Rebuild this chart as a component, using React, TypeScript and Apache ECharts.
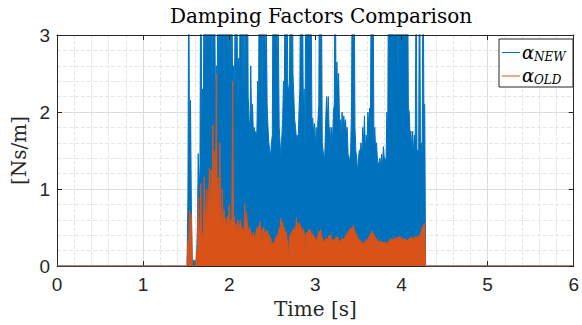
import React, { useEffect, useRef } from "react";
import * as echarts from "echarts";

// ---- data ----
const xTicks = [0, 1, 2, 3, 4, 5, 6];
const yTicks = [0, 1, 2, 3];
const timeRange = [0, 6];
const onsetTime = 1.51;
const offsetTime = 4.28;

// alpha_NEW sampled every 0.01 s starting at 1.52 s
const newStart = 1.52;
const newStep = 0.01;
const alphaNew = [
  0.9, 4.0, 1.2, 2.15, 0.8, 0.1, 0.05, 0.08, 0.04, 0.06,
  0.1, 0.5, 1.46, 0.9, 1.3, 4.5, 1.85, 2.3, 1.9, 5.0,
  2.4, 4.2, 2.6, 5.0, 2.2, 4.0, 2.5, 3.8, 2.3, 4.6,
  2.6, 3.6, 2.1, 2.6, 2.05, 4.4, 2.5, 3.9, 2.4, 5.0,
  2.7, 4.3, 2.3, 3.7, 2.6, 4.8, 2.4, 3.5, 2.2, 4.1,
  2.5, 3.9, 2.2, 2.6, 1.9, 4.0, 2.3, 3.3, 2.0, 2.7,
  2.4, 4.5, 2.6, 3.7, 2.2, 4.2, 1.65, 3.6, 2.6, 4.4,
  2.2, 1.9, 1.75, 2.6, 1.8, 2.1, 1.72, 1.8, 1.7, 1.75,
  1.68, 2.4, 1.9, 4.5, 2.6, 4.0, 1.8, 4.6, 2.7, 4.1,
  2.5, 3.3, 2.1, 1.8, 1.6, 1.5, 1.42, 1.6, 1.7, 4.4,
  2.8, 4.8, 2.6, 4.2, 2.5, 3.1, 1.8, 1.6, 1.42, 1.65,
  1.9, 2.4, 2.2, 4.6, 2.5, 4.0, 2.3, 2.3, 2.4, 4.3,
  2.6, 4.7, 2.5, 2.2, 1.9, 1.8, 1.65, 1.7, 1.63, 2.0,
  2.3, 4.2, 2.4, 3.8, 2.0, 2.3, 1.5, 4.4, 2.6, 4.9,
  2.7, 4.1, 2.5, 3.7, 1.9, 1.92, 1.7, 1.85, 1.55, 1.8,
  1.6, 1.9, 2.1, 4.6, 2.3, 3.9, 1.6, 1.5, 1.4, 1.45,
  1.9, 2.2, 1.9, 2.2, 1.75, 1.8, 1.55, 1.8, 1.6, 2.0,
  2.1, 4.3, 2.2, 2.65, 2.2, 2.5, 1.9, 1.9, 1.63, 2.0,
  1.7, 1.95, 1.8, 1.9, 1.7, 1.8, 1.45, 1.4, 1.38, 1.5,
  2.0, 4.5, 2.3, 4.0, 1.8, 1.5, 1.4, 1.2, 1.4, 1.5,
  1.5, 1.6, 1.4, 1.8, 1.6, 1.95, 1.5, 1.7, 1.6, 2.0,
  1.8, 2.05, 1.9, 4.2, 2.4, 4.0, 1.6, 1.8, 1.5, 1.6,
  1.4, 1.3, 1.35, 1.4, 1.3, 1.45, 1.3, 1.55, 1.4, 1.4,
  1.3, 2.0, 1.6, 4.2, 2.6, 4.8, 2.9, 5.0, 2.8, 4.6,
  3.1, 5.0, 2.9, 4.5, 2.3, 4.7, 3.0, 4.9, 2.8, 5.0,
  3.0, 4.6, 2.9, 4.8, 2.7, 4.2, 2.05, 2.0, 1.7, 1.75,
  1.5, 1.75, 1.45, 1.7, 1.6, 4.0, 1.5, 1.5, 1.45, 4.5,
  1.5, 1.6, 1.45, 4.3, 2.1, 2.1,
];

// alpha_OLD sampled every 0.01 s starting at 1.52 s
const oldStart = 1.52;
const oldStep = 0.01;
const alphaOld = [
  0.32, 0.3, 0.73, 0.5, 0.68, 0.0, 0.0, 0.0, 0.0, 0.0,
  0.2, 0.15, 0.9, 0.4, 0.5, 1.07, 0.45, 0.3, 0.5, 1.16,
  0.55, 0.7, 1.0, 0.5, 0.85, 1.27, 0.6, 1.25, 0.55, 1.83,
  0.7, 1.5, 0.6, 2.5, 0.65, 1.15, 0.6, 1.6, 0.7, 0.5,
  1.0, 0.45, 0.73, 0.4, 0.62, 0.45, 0.64, 0.5, 0.8, 0.45,
  0.6, 0.5, 2.4, 0.5, 0.64, 0.4, 0.55, 0.45, 0.6, 0.4,
  0.52, 0.6, 0.45, 0.5, 0.47, 0.4, 0.8, 0.5, 0.7, 0.55,
  0.47, 0.4, 0.5, 0.38, 0.42, 0.36, 0.44, 0.35, 0.4, 0.42,
  0.5, 0.4, 0.52, 0.45, 0.58, 0.1, 0.48, 0.4, 0.5, 0.38,
  0.45, 0.37, 0.47, 0.35, 0.42, 0.33, 0.38, 0.28, 0.3, 0.26,
  0.32, 0.3, 0.38, 0.33, 0.42, 0.4, 0.5, 0.45, 0.62, 0.5,
  0.57, 0.45, 0.5, 0.4, 0.45, 0.35, 0.3, 0.05, 0.4, 0.36,
  0.44, 0.4, 0.48, 0.42, 0.5, 0.45, 0.63, 0.5, 0.55, 0.48,
  0.56, 0.45, 0.5, 0.44, 0.48, 0.4, 0.42, 0.1, 0.44, 0.4,
  0.47, 0.42, 0.48, 0.4, 0.43, 0.38, 0.4, 0.35, 0.36, 0.33,
  0.35, 0.4, 0.45, 0.42, 0.48, 0.4, 0.38, 0.32, 0.33, 0.3,
  0.36, 0.32, 0.35, 0.37, 0.4, 0.35, 0.41, 0.33, 0.34, 0.31,
  0.35, 0.33, 0.38, 0.34, 0.39, 0.32, 0.33, 0.3, 0.35, 0.32,
  0.36, 0.34, 0.38, 0.36, 0.42, 0.38, 0.45, 0.42, 0.49, 0.44,
  0.5, 0.46, 0.53, 0.47, 0.45, 0.4, 0.42, 0.36, 0.36, 0.33,
  0.34, 0.3, 0.31, 0.28, 0.3, 0.29, 0.33, 0.3, 0.35, 0.33,
  0.38, 0.36, 0.43, 0.4, 0.46, 0.41, 0.42, 0.37, 0.37, 0.33,
  0.35, 0.31, 0.32, 0.3, 0.33, 0.29, 0.31, 0.3, 0.32, 0.29,
  0.3, 0.28, 0.31, 0.3, 0.34, 0.31, 0.36, 0.33, 0.35, 0.32,
  0.37, 0.33, 0.36, 0.34, 0.38, 0.35, 0.39, 0.35, 0.37, 0.34,
  0.35, 0.32, 0.36, 0.33, 0.34, 0.31, 0.35, 0.33, 0.37, 0.34,
  0.38, 0.35, 0.36, 0.34, 0.39, 0.35, 0.38, 0.36, 0.4, 0.37,
  0.41, 0.45, 0.5, 0.52, 0.55, 0.55,
];

const seriesNames = ["α_NEW", "α_OLD"];
const blue = "#0072BD";
const orange = "#D95319";
const axisColor = "#262626";

function buildPoints(values: number[], start: number, step: number) {
  const pts: number[][] = [
    [timeRange[0], 0],
    [onsetTime, 0],
  ];
  values.forEach((v, i) => pts.push([+(start + i * step).toFixed(3), v]));
  pts.push([offsetTime, 0], [timeRange[1], 0]);
  return pts;
}

export default function App() {
  const ref = useRef<HTMLDivElement>(null);
  useEffect(() => {
    document.body.style.margin = "0";
    if (!ref.current) return;
    const chart = echarts.init(ref.current, undefined, { renderer: "svg" });
    const serif = "DejaVu Serif";
    const sans = "Liberation Sans";
    const boxAxis = (pos: string) => ({
      type: "value",
      min: pos === "top" ? timeRange[0] : yTicks[0],
      max: pos === "top" ? timeRange[1] : yTicks[yTicks.length - 1],
      interval: 1,
      position: pos,
      z: 5,
      axisLine: { show: true, onZero: false, lineStyle: { color: axisColor, width: 1 } },
      axisTick: { show: true, inside: true, length: 5, lineStyle: { color: axisColor } },
      axisLabel: { show: false },
      splitLine: { show: false },
    });
    const legendText = (text: string, x: number, y: number, size: number) => ({
      type: "text",
      x,
      y,
      z: 101,
      style: {
        text,
        font: `italic ${size}px "DejaVu Serif"`,
        fill: "#000",
        textAlign: "left",
        textVerticalAlign: "middle",
        align: "left",
        verticalAlign: "middle",
      },
    });
    chart.setOption({
      animation: false,
      title: {
        text: "Damping Factors Comparison",
        left: 316,
        top: 1,
        textAlign: "center",
        textStyle: { fontFamily: serif, fontSize: 20, fontWeight: "normal", color: "#000" },
      },
      grid: { left: 57, right: 7, top: 35, bottom: 59, containLabel: false },
      xAxis: [
        {
          type: "value",
          min: xTicks[0],
          max: xTicks[xTicks.length - 1],
          interval: 1,
          position: "bottom",
          name: "Time [s]",
          nameLocation: "middle",
          nameGap: 30,
          nameTextStyle: { fontFamily: serif, fontSize: 20, color: axisColor },
          axisLine: { show: true, onZero: false, lineStyle: { color: axisColor, width: 1 } },
          axisTick: { show: true, inside: true, length: 5, lineStyle: { color: axisColor } },
          axisLabel: { color: axisColor, fontFamily: sans, fontSize: 19, margin: 9 },
          splitLine: { show: true, lineStyle: { color: "#dcdcdc", width: 1 } },
          minorTick: { show: false, splitNumber: 5 },
          minorSplitLine: { show: true, lineStyle: { color: "#e6e6e6", type: "dashed", width: 1 } },
        },
        boxAxis("top"),
      ],
      yAxis: [
        {
          type: "value",
          min: yTicks[0],
          max: yTicks[yTicks.length - 1],
          interval: 1,
          position: "left",
          name: "[Ns/m]",
          nameLocation: "middle",
          nameGap: 27,
          nameTextStyle: { fontFamily: serif, fontSize: 20, color: axisColor },
          axisLine: { show: true, onZero: false, lineStyle: { color: axisColor, width: 1 } },
          axisTick: { show: true, inside: true, length: 5, lineStyle: { color: axisColor } },
          axisLabel: { color: axisColor, fontFamily: sans, fontSize: 19, margin: 7 },
          splitLine: { show: true, lineStyle: { color: "#dcdcdc", width: 1 } },
          minorTick: { show: false, splitNumber: 5 },
          minorSplitLine: { show: true, lineStyle: { color: "#e6e6e6", type: "dashed", width: 1 } },
        },
        boxAxis("right"),
      ],
      series: [
        {
          name: seriesNames[0],
          type: "line",
          xAxisIndex: 0,
          yAxisIndex: 0,
          data: buildPoints(alphaNew, newStart, newStep),
          symbol: "none",
          clip: true,
          lineStyle: { color: blue, width: 1 },
          itemStyle: { color: blue },
          areaStyle: { color: blue, opacity: 1 },
          z: 2,
        },
        {
          name: seriesNames[1],
          type: "line",
          xAxisIndex: 0,
          yAxisIndex: 0,
          data: buildPoints(alphaOld, oldStart, oldStep),
          symbol: "none",
          clip: true,
          lineStyle: { color: orange, width: 1 },
          itemStyle: { color: orange },
          areaStyle: { color: orange, opacity: 1 },
          z: 3,
        },
      ],
      graphic: [
        {
          type: "rect",
          shape: { x: 499, y: 39, width: 74, height: 48 },
          style: { fill: "#ffffff", stroke: axisColor, lineWidth: 1 },
          z: 100,
        },
        {
          type: "line",
          shape: { x1: 502, y1: 52.5, x2: 520, y2: 52.5 },
          style: { stroke: blue, lineWidth: 1 },
          z: 101,
        },
        {
          type: "line",
          shape: { x1: 502, y1: 76, x2: 520, y2: 76 },
          style: { stroke: orange, lineWidth: 1 },
          z: 101,
        },
        legendText("α", 522, 52, 18),
        legendText("NEW", 534, 57, 12),
        legendText("α", 522, 75, 18),
        legendText("OLD", 534, 80, 12),
      ],
    });
    return () => chart.dispose();
  }, []);
  return <div ref={ref} style={{ width: 582, height: 325 }} />;
}
